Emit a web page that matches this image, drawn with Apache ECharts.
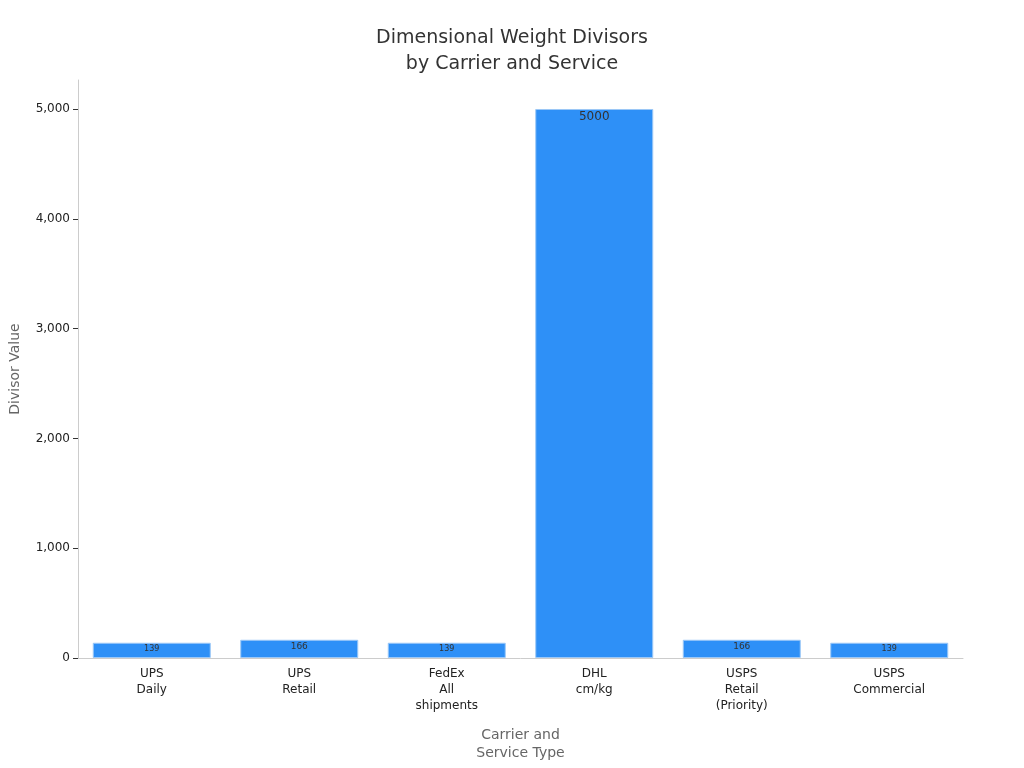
<!DOCTYPE html>
<html><head><meta charset="utf-8">
<script src="https://cdn.jsdelivr.net/npm/echarts@6/dist/echarts.min.js"></script>
<style>html,body{margin:0;padding:0;background:#fff}#c{width:1024px;height:768px}</style>
</head><body><div id="c"></div>
<script>
const categories = ["UPS\nDaily","UPS\nRetail","FedEx\nAll\nshipments","DHL\ncm/kg","USPS\nRetail\n(Priority)","USPS\nCommercial"];
const values = [139,166,139,5000,166,139];
const labelSizes = [8,9,8,12,9,8];
const chart = echarts.init(document.getElementById('c'));
chart.setOption({
  textStyle:{fontFamily:'DejaVu Sans'},
  title:{text:'Dimensional Weight Divisors\nby Carrier and Service',left:'center',top:20,
    textStyle:{fontSize:19,fontWeight:'normal',color:'#333',lineHeight:26,fontFamily:'DejaVu Sans'}},
  grid:{left:76,right:61,top:80,bottom:110},
  xAxis:{type:'category',data:categories,name:'Carrier and\nService Type',nameLocation:'middle',nameGap:68,
    nameTextStyle:{color:'#666',fontSize:14,lineHeight:18},
    axisLine:{lineStyle:{color:'#ccc'}},axisTick:{show:false},
    axisLabel:{color:'#222',fontSize:12,lineHeight:16,interval:0}},
  yAxis:{type:'value',min:0,max:5264,interval:1000,name:'Divisor Value',nameLocation:'middle',nameGap:56,
    nameTextStyle:{color:'#666',fontSize:14},
    axisLine:{show:true,lineStyle:{color:'#ccc'}},axisTick:{show:true,lineStyle:{color:'#333'}},
    splitLine:{show:false},axisLabel:{color:'#222',fontSize:12,showMaxLabel:false}},
  series:[{type:'bar',barWidth:'80%',
    data:values.map((v,i)=>({value:v,label:{fontSize:labelSizes[i]}})),
    itemStyle:{color:'#2e90f7',borderColor:'#9cc8f7',borderWidth:1},
    label:{show:true,position:'insideTop',offset:[0,-3],color:'#333'}}]
});
</script></body></html>
